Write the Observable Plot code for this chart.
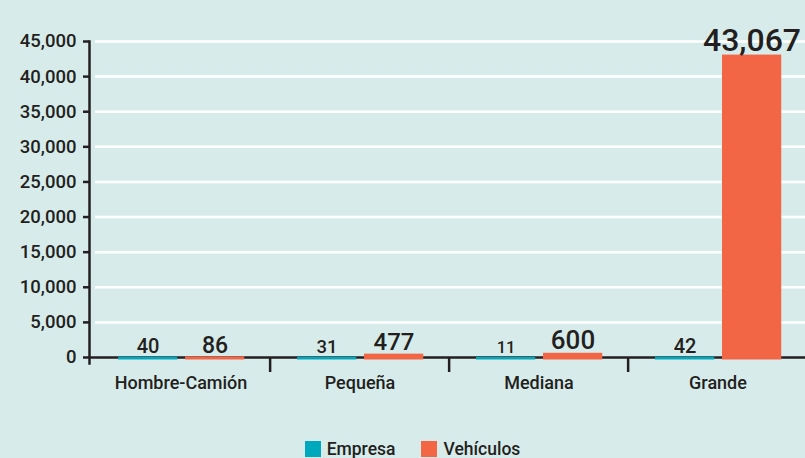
<!DOCTYPE html>
<html>
<head>
<meta charset="utf-8">
<script src="https://cdn.jsdelivr.net/npm/d3@7"></script>
<script src="https://cdn.jsdelivr.net/npm/@observablehq/plot@0.6"></script>
<style>
  html, body { margin: 0; padding: 0; background: #d7ecea; }
  body { width: 805px; height: 458px; overflow: hidden; font-family: Roboto, "Liberation Sans", Arial, sans-serif; font-weight: 500; color: #231f20; }
  #legend { height: 20px; display: flex; justify-content: center; align-items: flex-start; padding-left: 20px; box-sizing: border-box; font-size: 17.5px; }
  .item { display: flex; align-items: center; margin: 0 13px; height: 16px; padding-top: 3px; }
  .sw { width: 16px; height: 16px; margin-right: 6px; }
</style>
</head>
<body>
<div id="chart"></div>
<div id="legend"></div>
<script>
const categories = ["Hombre-Camión", "Pequeña", "Mediana", "Grande"];
const seriesNames = ["Empresa", "Vehículos"];
const empresa = [40, 31, 11, 42];
const vehiculos = [86, 477, 600, 43067];
const yTicks = [0, 5000, 10000, 15000, 20000, 25000, 30000, 35000, 40000, 45000];

const colors = {"Empresa": "#00a8be", "Vehículos": "#f26646"};
const ink = "#231f20";

const rows = [];
categories.forEach((c, i) => {
  rows.push({cat: c, series: seriesNames[0], value: empresa[i]});
  rows.push({cat: c, series: seriesNames[1], value: vehiculos[i]});
});

// label font size style (by value magnitude)
function labelSize(d) {
  if (d.value >= 10000) return 32;
  if (d.value >= 500) return 26;
  if (d.value >= 100) return 24;
  if (d.value >= 80) return 23;
  if (d.value >= 35) return 20;
  if (d.value >= 20) return 18.5;
  return 16.5;
}

const bw = (808 - 89) / 4;
const fmt = d3.format(",");

const emp = rows.filter(d => d.series === "Empresa");
const veh = rows.filter(d => d.series === "Vehículos");

const plot = Plot.plot({
  width: 805,
  height: 438,
  marginLeft: 89,
  marginRight: 0,
  marginTop: 41,
  marginBottom: 81,
  style: {background: "transparent", fontFamily: "Roboto, 'Liberation Sans', Arial, sans-serif", fontWeight: 500, color: ink},
  x: {domain: categories, range: [89, 808], padding: 0},
  y: {domain: [0, 45000]},
  marks: [
    Plot.gridY({ticks: yTicks.slice(1), stroke: "white", strokeOpacity: 1, strokeWidth: 2.5, insetLeft: 6}),
    Plot.frame({anchor: "left", stroke: ink, strokeWidth: 2.5, insetBottom: -6}),
    Plot.ruleY([0], {stroke: ink, strokeWidth: 2.5}),
    Plot.axisY({ticks: yTicks, tickFormat: fmt, tickSize: 6, tickPadding: 7, fontSize: 18.5, color: ink, strokeWidth: 2.5, label: null}),
    Plot.axisX({ticks: categories.slice(1), tickSize: 15, text: null, dx: -bw / 2, color: ink, strokeWidth: 2.5, label: null}),
    Plot.axisX({tickSize: 0, tickPadding: 19, fontSize: 18, color: ink, label: null}),
    Plot.barY(emp, {x: "cat", y: "value", fill: colors["Empresa"], insetLeft: 27, insetRight: bw - 87, insetBottom: -2.5}),
    Plot.barY(veh, {x: "cat", y: "value", fill: colors["Vehículos"], insetLeft: 94, insetRight: bw - 154, insetBottom: -2.5}),
    Plot.text(emp, {x: "cat", y: "value", text: d => fmt(d.value), dx: -33, dy: -4, lineAnchor: "bottom", fontSize: labelSize, fill: ink}),
    Plot.text(veh, {x: "cat", y: "value", text: d => fmt(d.value), dx: 34, dy: -4, lineAnchor: "bottom", fontSize: labelSize, fill: ink})
  ]
});
document.getElementById("chart").appendChild(plot);

const legend = document.getElementById("legend");
seriesNames.forEach(s => {
  const it = document.createElement("div");
  it.className = "item";
  const sw = document.createElement("span");
  sw.className = "sw";
  sw.style.background = colors[s];
  const t = document.createElement("span");
  t.textContent = s;
  it.appendChild(sw);
  it.appendChild(t);
  legend.appendChild(it);
});
</script>
</body>
</html>
